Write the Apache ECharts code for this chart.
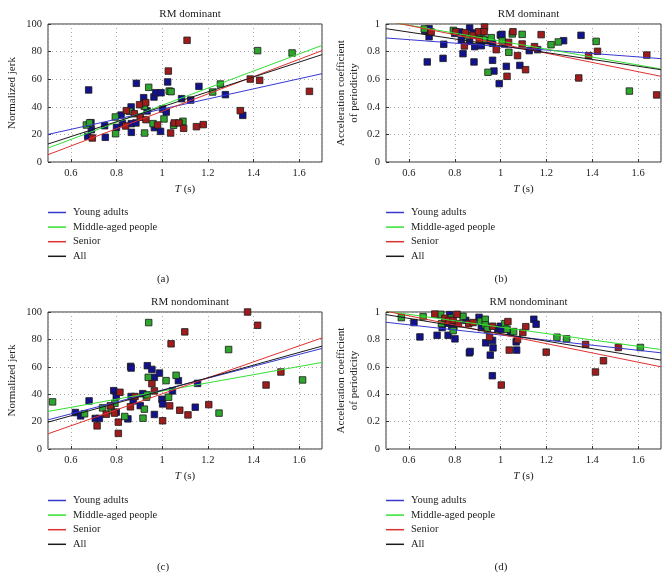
<!DOCTYPE html>
<html>
<head>
<meta charset="utf-8">
<script src="https://cdn.jsdelivr.net/npm/echarts@6/dist/echarts.min.js"></script>
<style>
html,body{margin:0;padding:0;background:#fff;}
#chart{width:669px;height:586px;}
</style>
</head>
<body>
<div id="chart"></div>
<script>
// ---------- DATA ----------
const groupNames = ['Young adults', 'Middle-aged people', 'Senior', 'All'];
const panelTitles = ['RM dominant', 'RM dominant', 'RM nondominant', 'RM nondominant'];
const panelLetters = ['(a)', '(b)', '(c)', '(d)'];
const yNames = ['Normalized jerk', 'Acceleration coefficient\nof periodicity', 'Normalized jerk', 'Acceleration coefficient\nof periodicity'];
const fitX = [0.5, 1.7];

// (a) RM dominant - normalized jerk
const aYoung = [[0.678,52.2],[0.674,18.6],[0.688,28.5],[0.69,23.4],[0.748,26.3],[0.751,17.9],[0.80,25.1],[0.82,34],[0.826,27.8],[0.864,39.9],[0.865,27.8],[0.865,21.5],[0.885,28.3],[0.887,57],[0.919,46.6],[0.934,37],[0.964,47.1],[0.972,50.2],[0.995,50.2],[0.966,24.9],[0.993,22.2],[1.002,38.4],[1.018,36.2],[1.024,58],[1.085,45.9],[1.125,44.9],[1.161,54.8],[1.277,48.8],[1.353,33.8]];
const aMiddle = [[0.668,26.8],[0.682,28.3],[0.795,32.6],[0.796,20.5],[0.858,36.7],[0.922,40.3],[0.923,21],[0.941,54.1],[0.96,27.8],[1.008,31.2],[1.031,51.4],[1.039,51],[1.05,26.6],[1.091,29.5],[1.221,50.7],[1.255,56.5],[1.418,80.7],[1.569,79]];
const aSenior = [[0.694,17.4],[0.843,37.2],[0.84,26.1],[0.878,35],[0.901,41.5],[0.904,32.4],[0.928,43],[0.929,30.7],[0.98,26.8],[1.027,65.9],[1.037,21],[1.053,28.3],[1.074,28.3],[1.094,24.4],[1.109,88.2],[1.15,25.6],[1.18,27.1],[1.342,37.2],[1.386,60.1],[1.427,59.2],[1.645,51.2]];
const aFits = [[20.0,64.0],[10.1,84.5],[5.3,80.7],[13.0,77.8]];

// (b) RM dominant - acceleration coefficient of periodicity
const bYoung = [[0.67,0.952],[0.688,0.966],[0.688,0.908],[0.68,0.725],[0.752,0.853],[0.749,0.751],[0.80,0.932],[0.822,0.942],[0.829,0.884],[0.836,0.785],[0.865,0.971],[0.865,0.874],[0.884,0.935],[0.887,0.836],[0.884,0.725],[0.916,0.843],[0.939,0.879],[0.965,0.86],[0.965,0.737],[0.971,0.659],[0.994,0.568],[0.999,0.92],[1.006,0.925],[1.017,0.855],[1.025,0.693],[1.084,0.70],[1.125,0.807],[1.162,0.814],[1.275,0.879],[1.351,0.918]];
const bMiddle = [[0.667,0.964],[0.794,0.954],[0.858,0.915],[0.916,0.92],[0.926,0.889],[0.945,0.65],[0.959,0.901],[1.007,0.877],[1.036,0.795],[1.051,0.928],[1.094,0.925],[1.22,0.85],[1.252,0.87],[1.417,0.874],[1.562,0.514]];
const bSenior = [[0.697,0.942],[0.804,0.944],[0.842,0.841],[0.846,0.937],[0.88,0.918],[0.904,0.944],[0.907,0.886],[0.93,0.978],[0.928,0.944],[0.981,0.814],[1.028,0.621],[1.035,0.867],[1.054,0.944],[1.074,0.771],[1.094,0.855],[1.109,0.669],[1.148,0.836],[1.177,0.923],[1.341,0.609],[1.384,0.771],[1.423,0.802],[1.638,0.775],[1.681,0.486]];
const bFits = [[0.899,0.749],[1.02,0.674],[1.023,0.621],[0.966,0.669]];

// (c) RM nondominant - normalized jerk
const cYoung = [[0.62,26.6],[0.643,24.2],[0.68,35.1],[0.707,22.3],[0.725,22.3],[0.788,42.6],[0.799,38.7],[0.799,26.9],[0.85,22],[0.862,60.3],[0.864,59.1],[0.864,38.3],[0.873,35.1],[0.904,31.7],[0.915,40.4],[0.935,60.8],[0.955,58.1],[0.966,52.3],[0.988,55.4],[0.966,25.2],[0.999,36.3],[1.002,32.9],[1.045,42.4],[1.071,49.9],[1.145,30.5],[1.155,47.9]];
const cMiddle = [[0.52,34.4],[0.66,25.7],[0.739,30],[0.777,28.1],[0.793,33.4],[0.836,23.7],[0.916,22.5],[0.922,29.1],[0.931,37.8],[0.934,39.5],[0.941,92.3],[0.939,52.3],[1.017,49.9],[1.028,37.8],[1.061,53.8],[1.249,26.2],[1.291,72.6],[1.615,50.4]];
const cSenior = [[0.715,16.9],[0.755,25.4],[0.773,31.5],[0.791,26.2],[0.808,19.6],[0.808,11.4],[0.815,41.4],[0.861,30.8],[0.881,38.3],[0.955,47.7],[0.966,42.4],[1.002,20.6],[1.033,31.5],[1.039,76.8],[1.077,28.3],[1.099,85.5],[1.113,24.9],[1.204,32.4],[1.374,100],[1.418,90.3],[1.455,46.7],[1.52,56.2]];
const cFits = [[21.3,73.4],[27.4,63.2],[11.1,81.1],[19.6,75.1]];

// (d) RM nondominant - acceleration coefficient of periodicity
const dYoung = [[0.622,0.923],[0.648,0.818],[0.723,0.83],[0.745,0.886],[0.771,0.83],[0.778,0.981],[0.77,0.918],[0.787,0.896],[0.796,0.891],[0.801,0.804],[0.848,0.939],[0.864,0.702],[0.867,0.712],[0.906,0.961],[0.916,0.886],[0.935,0.775],[0.955,0.685],[0.965,0.792],[0.967,0.738],[0.964,0.535],[0.988,0.877],[0.999,0.896],[1.003,0.872],[1.043,0.855],[1.068,0.782],[1.07,0.722],[1.145,0.947],[1.155,0.911]];
const dMiddle = [[0.567,0.959],[0.662,0.966],[0.739,0.983],[0.742,0.915],[0.78,0.956],[0.793,0.864],[0.836,0.969],[0.913,0.932],[0.933,0.947],[0.933,0.906],[0.942,0.874],[1.019,0.915],[1.028,0.874],[1.057,0.857],[1.246,0.816],[1.288,0.804],[1.61,0.741]];
const dSenior = [[0.713,0.985],[0.757,0.954],[0.775,0.939],[0.793,0.939],[0.81,0.983],[0.816,0.915],[0.861,0.915],[0.88,0.923],[0.952,0.816],[0.965,0.896],[1.003,0.467],[1.032,0.93],[1.038,0.722],[1.074,0.799],[1.097,0.85],[1.11,0.893],[1.199,0.707],[1.371,0.763],[1.414,0.562],[1.449,0.644],[1.514,0.741]];
const dFits = [[0.925,0.702],[1.006,0.726],[1.006,0.60],[0.981,0.649]];

const yRanges = [[0,100,20],[0,1,0.2],[0,100,20],[0,1,0.2]];

// ---------- STYLE / LAYOUT ----------
const FONT = 'Liberation Serif';
const pointColors = ['#12128e', '#2ea62e', '#a01c1c'];
const lineColors = ['#3838d0', '#33e033', '#e03030', '#1a1a1a'];
const grids = [
  {left: 48, top: 24, width: 274, height: 138},
  {left: 386, top: 24, width: 275, height: 138},
  {left: 48, top: 312, width: 274, height: 137},
  {left: 386, top: 312, width: 275, height: 137}
];
const panels = [
  {pts: [aYoung, aMiddle, aSenior], fits: aFits},
  {pts: [bYoung, bMiddle, bSenior], fits: bFits},
  {pts: [cYoung, cMiddle, cSenior], fits: cFits},
  {pts: [dYoung, dMiddle, dSenior], fits: dFits}
];

const option = {
  animation: false,
  backgroundColor: '#fff',
  textStyle: {fontFamily: FONT, color: '#222'},
  title: [], legend: [], grid: [], xAxis: [], yAxis: [], series: []
};

grids.forEach((g, i) => {
  option.grid.push(Object.assign({show: true, borderColor: '#333', borderWidth: 1, backgroundColor: 'transparent'}, g));
  const cx = g.left + g.width / 2;
  option.title.push({
    text: panelTitles[i], left: cx, top: g.top - 20, textAlign: 'center',
    textStyle: {fontFamily: FONT, fontSize: 11, fontWeight: 'normal', color: '#222'}
  });
  option.title.push({
    text: panelLetters[i], left: g.left + 110, top: g.top + 245, textAlign: 'center',
    textStyle: {fontFamily: FONT, fontSize: 11, fontWeight: 'normal', color: '#222'}
  });
  option.legend.push({
    data: groupNames, orient: 'vertical', left: g.left, top: g.top + 183,
    itemWidth: 18, itemHeight: 1.5, icon: 'rect', itemGap: 3.6, itemStyle: {borderWidth: 0},
    selectedMode: false, padding: 0,
    textStyle: {fontFamily: FONT, fontSize: 10.5, color: '#222', padding: [0, 0, 0, 2]}
  });
  option.xAxis.push({
    type: 'value', gridIndex: i, min: 0.5, max: 1.7,
    name: '{i|T} (s)', nameLocation: 'middle', nameGap: 22,
    nameTextStyle: {fontFamily: FONT, fontSize: 11, color: '#222', rich: {i: {fontFamily: FONT, fontStyle: 'italic', fontSize: 11, color: '#222'}}},
    axisLine: {show: false},
    axisTick: {show: true, inside: true, length: 3, lineStyle: {color: '#333'}},
    axisLabel: {fontFamily: FONT, fontSize: 10.5, color: '#222', margin: 6, showMinLabel: false, showMaxLabel: false},
    splitLine: {show: true, lineStyle: {color: '#aaa', type: [1, 3], width: 1}}
  });
  const yr = yRanges[i];
  const twoLine = yNames[i].indexOf('\n') >= 0;
  option.yAxis.push({
    type: 'value', gridIndex: i, min: yr[0], max: yr[1], interval: yr[2],
    name: yNames[i], nameLocation: 'middle', nameGap: twoLine ? 25 : 29,
    nameTextStyle: {fontFamily: FONT, fontSize: 11, color: '#222', lineHeight: 13},
    axisLine: {show: false},
    axisTick: {show: true, inside: true, length: 3, lineStyle: {color: '#333'}},
    axisLabel: {fontFamily: FONT, fontSize: 10.5, color: '#222', margin: 6},
    splitLine: {show: true, lineStyle: {color: '#aaa', type: [1, 3], width: 1}}
  });
  const p = panels[i];
  p.pts.forEach((pts, k) => {
    option.series.push({
      type: 'scatter', name: groupNames[k] + ' points', xAxisIndex: i, yAxisIndex: i,
      data: pts, symbol: 'rect', symbolSize: 6.5, z: 2,
      itemStyle: {color: pointColors[k], borderColor: '#1a1a1a', borderWidth: 0.8, opacity: 1}
    });
  });
  p.fits.forEach((f, k) => {
    option.series.push({
      type: 'line', name: groupNames[k], xAxisIndex: i, yAxisIndex: i,
      data: [[fitX[0], f[0]], [fitX[1], f[1]]], showSymbol: false, symbol: 'none', clip: true, z: 3,
      color: lineColors[k],
      itemStyle: {color: lineColors[k]},
      lineStyle: {color: lineColors[k], width: 1}
    });
  });
});

const chart = echarts.init(document.getElementById('chart'), null, {renderer: 'canvas'});
chart.setOption(option);
</script>
</body>
</html>
